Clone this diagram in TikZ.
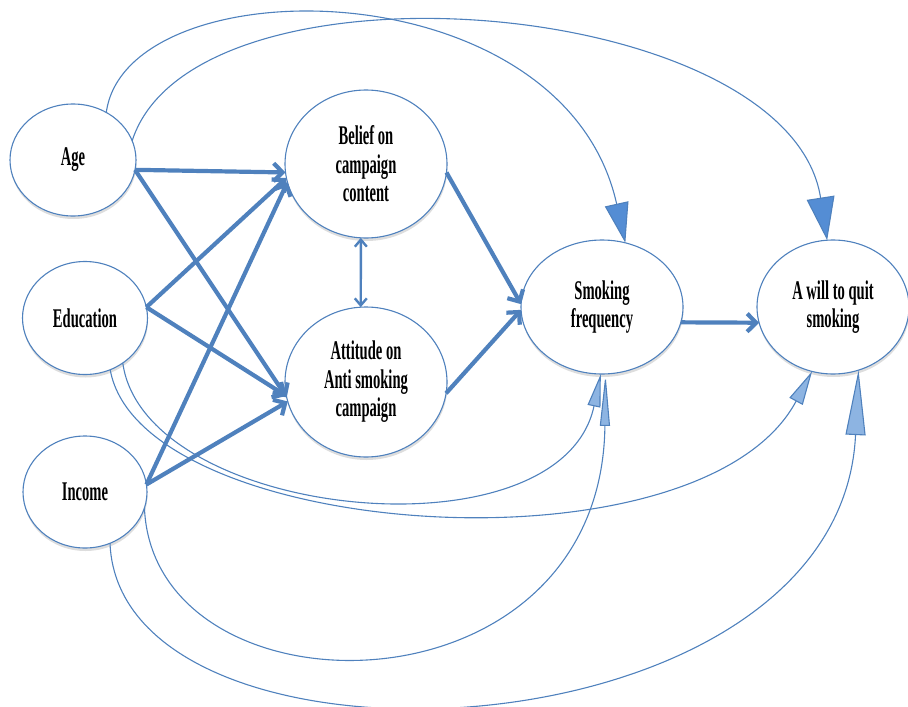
\documentclass[tikz,border=0pt]{standalone}
\usepackage{fontspec}
\setmainfont{Liberation Serif}
\newfontfamily\labelfont[FakeStretch=0.54]{Liberation Serif}
\usetikzlibrary{arrows.meta,shapes.geometric,shadows}
\definecolor{lineblue}{RGB}{79,129,189}
\definecolor{tipblue}{RGB}{84,141,212}
\definecolor{paleblue}{RGB}{141,180,226}

\tikzstyle{vertex}=[ellipse,draw=lineblue,line width=1.1pt,fill=white,inner sep=0pt,outer sep=0pt,align=center,
  font=\labelfont\bfseries\fontsize{27}{28.5}\selectfont,
  drop shadow={shadow xshift=0.5pt,shadow yshift=-3pt,opacity=0.22,fill=black!60}]
\tikzstyle{main edge}=[draw=lineblue,line width=4.2pt,-{Straight Barb[length=9pt,width=18pt]}]
\tikzstyle{link edge}=[draw=lineblue,line width=2.4pt,{Straight Barb[length=7pt,width=12pt]}-{Straight Barb[length=7pt,width=12pt]}]
\tikzstyle{side edge}=[draw=lineblue,line width=1.1pt]

\begin{document}
\begin{tikzpicture}[x=1pt,y=-1pt]
      \useasboundingbox (0,0) rectangle (908,707);
      %nodes
      \foreach \nodename/\x/\y/\w/\h/\text in {
        age/73/160/126/112/{Age}, edu/85/318/125/113/{Education}, inc/85/492/124/112/{Income},
        belief/366/164/162/148/{Belief on\\campaign\\content},
        att/366/382/162/150/{Attitude on\\Anti smoking\\campaign},
        smoke/602/307/162/134/{Smoking\\frequency}, will/833/307/152/134/{A will to quit\\smoking}}
      {
        \node[vertex, minimum width=\w pt, minimum height=\h pt] (\nodename) at (\x,\y) {\text};
      };
      %edges
      \foreach \startnode/\endnode in {age.-9/belief.186, age.-9/att.191, edu.10/belief.190, edu.10/att.190,
        inc.7/belief.193, inc.7/att.194, belief.-6/smoke.178, att.-8/smoke.182, smoke.-11/will.192}
      {
        \draw[main edge] (\startnode) -- (\endnode);
      };
      \draw[link edge] (belief.-94) -- (att.94);
      %curved edges
      \foreach \startnode/\endnode/\ox/\oy/\ix/\iy/\len/\wid/\tipcolor in {
        age.55/smoke.70/20/-148/-62/-278/40/24/tipblue, age.18/will.95/62/-193/-38/-245/43/28/tipblue,
        edu.-50/smoke.-91/22/157/-40/188/33/13/paleblue, edu.-64/will.-108/30/170/-112/209/34/15/paleblue,
        inc.-15/smoke.-87/9/215/-4/350/52/10/paleblue, inc.-64/will.-68/10/250/-18/393/65/20/paleblue}
      {
        \draw[side edge,-{Triangle[length=\len pt,width=\wid pt,fill=\tipcolor]}]
          (\startnode) .. controls +(\ox,\oy) and +(\ix,\iy) .. (\endnode);
      };
\end{tikzpicture}
\end{document}
